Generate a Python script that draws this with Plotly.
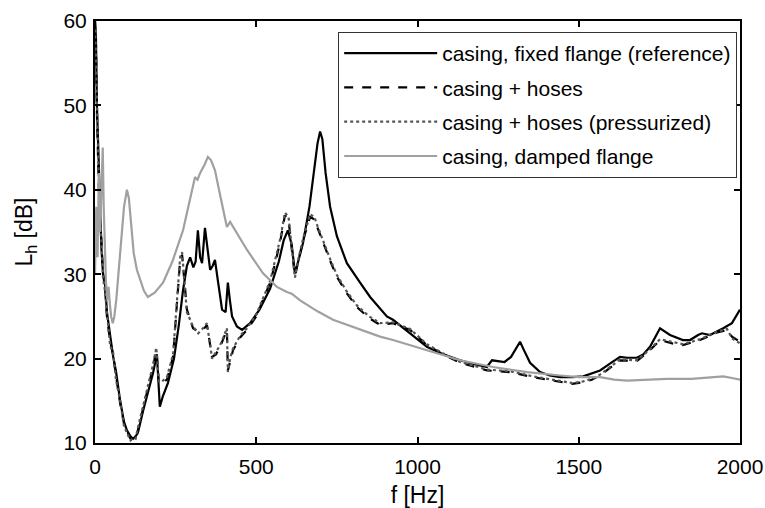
import plotly.graph_objects as go

# ---------------- data ----------------
f_ref = [0, 3, 6, 10, 15, 20, 25, 31, 37, 47, 56, 65, 78, 90, 99, 110, 118, 126, 133, 149,
         165, 180, 192, 201, 210, 226, 245, 260, 273, 285, 295, 305, 312, 319, 326, 332, 341,
         350, 357, 365, 372, 380, 394, 405, 412, 418, 425, 440, 456, 481, 510, 543, 570, 585,
         598, 610, 620, 630, 645, 665, 680, 690, 698, 705, 715, 729, 750, 781, 822, 853, 905,
         924, 977, 1029, 1080, 1132, 1180, 1215, 1231, 1250, 1270, 1290, 1305, 1318, 1330,
         1349, 1380, 1410, 1442, 1480, 1514, 1566, 1600, 1628, 1650, 1680, 1700, 1721, 1752,
         1783, 1823, 1845, 1870, 1882, 1907, 1930, 1948, 1975, 1994, 2000]
L_ref = [60, 58, 50, 45, 40, 33, 30, 29, 25.5, 22.5, 20.3, 18.5, 15, 12.5, 11.5, 10.8, 10.5, 10.8, 11.2, 13.8,
         16, 18.3, 20.5, 14.3, 15.5, 17.1, 20, 24, 28.1, 31, 32, 30.8, 31.5, 35.2, 32, 31.3, 35.5,
         33, 30.5, 31, 31.7, 29.5, 25.8, 25.5, 29, 27, 25, 23.8, 23.4, 24.2, 25.8, 28.3, 31.5, 34,
         35.2, 33.5, 30.1, 31.5, 33.7, 38, 42.5, 45.5, 46.9, 46, 42, 38, 34.5, 31.3, 29, 27.3, 25,
         24.6, 23, 21.4, 20.5, 19.8, 19.3, 19.0, 19.8, 19.7, 19.6, 20.2, 21.2, 22.0, 21,
         19.5, 18.4, 18.0, 17.8, 17.8, 17.9, 18.6, 19.5, 20.2, 20.1, 20.1, 20.5, 21.4, 23.6,
         22.8, 22.2, 22.2, 22.8, 23.0, 22.8, 23.2, 23.6, 24.2, 25.5, 25.8]

f_hos = [0, 3, 6, 9, 12, 16, 20, 25, 31, 37, 47, 56, 65, 78, 90, 99, 110, 118, 126, 133, 149,
         165, 180, 190, 198, 205, 223, 242, 255, 264, 270, 278, 285, 304, 320, 335, 347, 363, 375,
         388, 400, 409, 412, 420, 428, 450, 471, 500, 543, 560, 575, 589, 600, 610, 620, 630,
         645, 667, 680, 690, 707, 730, 750, 780, 812, 850, 884, 924, 977, 1029, 1080, 1132,
         1180, 1215, 1250, 1287, 1358, 1400, 1442, 1480, 1514, 1540, 1566, 1600, 1628, 1680,
         1721, 1752, 1790, 1823, 1876, 1929, 1960, 1975, 2000]
L_hos = [60, 57, 49, 44, 40, 37, 33, 30, 28.5, 25, 22, 20.5, 18, 14.7, 12.3, 11.5, 10.5, 10.3, 10.8, 11.5, 14,
         16.5, 19, 21, 17.1, 17, 17.5, 20.2, 27, 31.7, 32.3, 29, 25.8, 23.6, 23.2, 23.4, 24, 20.2, 20.5,
         21.4, 22.5, 23.4, 18.6, 20, 21, 22.5, 23.4, 25, 29, 31.5, 34, 37, 36.5, 33, 29.8, 31.5,
         34, 36.8, 36.5, 35.5, 33.7, 31.5, 29.7, 27.8, 26.1, 24.8, 24, 24.2, 23.4, 21.6, 20.5, 19.5,
         19, 18.6, 18.5, 18.4, 17.8, 17.5, 17.2, 17.0, 17.2, 17.5, 18, 19, 19.8, 19.7,
         21, 22.2, 21.8, 21.6, 22.2, 23.1, 23.4, 22.6, 22]

f_prs = [0, 3, 6, 9, 12, 16, 20, 25, 31, 37, 47, 56, 65, 78, 90, 99, 110, 118, 126, 133, 149,
         165, 180, 190, 198, 205, 223, 242, 255, 264, 270, 278, 285, 304, 320, 335, 347, 363, 375,
         388, 400, 409, 412, 420, 428, 450, 471, 500, 543, 560, 575, 589, 600, 610, 620, 630,
         645, 667, 680, 690, 707, 730, 750, 780, 812, 850, 884, 924, 977, 1029, 1080, 1132,
         1180, 1215, 1250, 1287, 1358, 1400, 1442, 1480, 1514, 1540, 1566, 1600, 1628, 1680,
         1721, 1752, 1790, 1823, 1876, 1929, 1960, 1975, 2000]
L_prs = [59, 56, 50, 43, 41, 36, 34, 29.5, 28, 25.5, 21.5, 20.8, 17.5, 15, 12, 11.2, 10.3, 10.6, 10.5, 11.8, 14.3,
         16.8, 19.3, 21.3, 17.3, 17.2, 17.8, 20.5, 27.3, 32, 32.6, 29.3, 25.5, 23.8, 23.0, 23.6, 24.2, 20, 20.7,
         21.6, 22.7, 23.6, 18.4, 20.2, 21.2, 22.7, 23.6, 25.2, 29.2, 31.8, 34.3, 37.3, 36.8, 33.2, 29.6, 31.7,
         34.2, 37.1, 36.8, 35.7, 33.9, 31.7, 29.9, 28, 26.3, 25, 24.2, 24.3, 23.5, 21.7, 20.6, 19.6,
         19.1, 18.7, 18.6, 18.5, 17.9, 17.6, 17.3, 17.1, 17.3, 17.6, 18.1, 19.1, 19.9, 19.8,
         21.1, 22.3, 22.0, 21.7, 22.3, 23.2, 23.5, 22.4, 21.8]

f_dmp = [0, 4, 8, 12, 16, 20, 24, 27, 30, 34, 38, 42, 46, 50, 55, 60, 66, 72, 80, 90, 99, 105,
         112, 120, 130, 140, 152, 164, 185, 211, 240, 273, 295, 310, 318, 326, 340, 350, 360,
         372, 390, 409, 419, 440, 471, 521, 564, 595, 610, 636, 690, 738, 822, 884, 924, 1029,
         1132, 1234, 1340, 1442, 1500, 1566, 1610, 1650, 1700, 1773, 1850, 1907, 1948, 1975, 2000]
L_dmp = [30, 38, 32, 42, 35, 40, 45, 38, 33, 29, 27, 28.5, 26.5, 25, 24.2, 25, 27, 30, 34, 38, 40, 39,
         36, 32.5, 30.5, 29.3, 28, 27.3, 27.8, 29, 31.5, 35.2, 39, 41.5, 41.2, 42, 43, 43.9, 43.5,
         42.3, 39, 35.6, 36.2, 34.8, 32.9, 30.1, 28.5, 27.9, 27.7, 26.9, 25.6, 24.6, 23.4, 22.6, 22.2, 21.0,
         19.8, 19.0, 18.4, 18.0, 17.8, 17.8, 17.5, 17.4, 17.5, 17.6, 17.6, 17.8, 17.9, 17.7, 17.5]

series_names = ["casing, fixed flange (reference)", "casing + hoses",
                "casing + hoses (pressurized)", "casing, damped flange"]
x_ticks = [0, 500, 1000, 1500, 2000]
y_ticks = [10, 20, 30, 40, 50, 60]

# ---------------- figure ----------------
FONT = "Liberation Sans, Arial, sans-serif"
fig = go.Figure()
fig.add_trace(go.Scatter(x=f_ref, y=L_ref, mode="lines", name=series_names[0], legendgroup="a",
                         line=dict(color="black", width=2.2)))
fig.add_trace(go.Scatter(x=f_hos, y=L_hos, mode="lines", name=series_names[1], legendgroup="b",
                         line=dict(color="black", width=2.2, dash="dash")))
fig.add_trace(go.Scatter(x=f_prs, y=L_prs, mode="lines", name=series_names[2], legendgroup="c",
                         line=dict(color="#555555", width=2.2, dash="dot")))
fig.add_trace(go.Scatter(x=f_dmp, y=L_dmp, mode="lines", name=series_names[3], legendgroup="d",
                         line=dict(color="#a0a0a0", width=2.2)))

axis_common = dict(showline=True, linecolor="black", linewidth=2, mirror="ticks",
                   ticks="inside", ticklen=6, tickwidth=1.5, tickcolor="black",
                   showgrid=False, zeroline=False,
                   tickfont=dict(family=FONT, size=21, color="black"))
fig.update_xaxes(range=[0, 2000], tickvals=x_ticks, **axis_common, ticklabelstandoff=4,
                 title=dict(text="f [Hz]", font=dict(family=FONT, size=23, color="black"), standoff=10))
fig.update_yaxes(range=[10, 60], tickvals=y_ticks, **axis_common, ticklabelstandoff=2,
                 title=dict(text="L<sub>h</sub> [dB]", font=dict(family=FONT, size=23, color="black"), standoff=24))

fig.update_layout(
    width=765, height=508,
    margin=dict(l=95, r=25, t=21, b=65, autoexpand=False),
    paper_bgcolor="white", plot_bgcolor="white",
    showlegend=True,
    legend=dict(x=0.377, y=0.974, xanchor="left", yanchor="top",
                bgcolor="white", bordercolor="#333333", borderwidth=1,
                font=dict(family=FONT, size=21, color="black"),
                traceorder="grouped", tracegroupgap=4, itemwidth=93),
)

fig.write_html("out.html")
